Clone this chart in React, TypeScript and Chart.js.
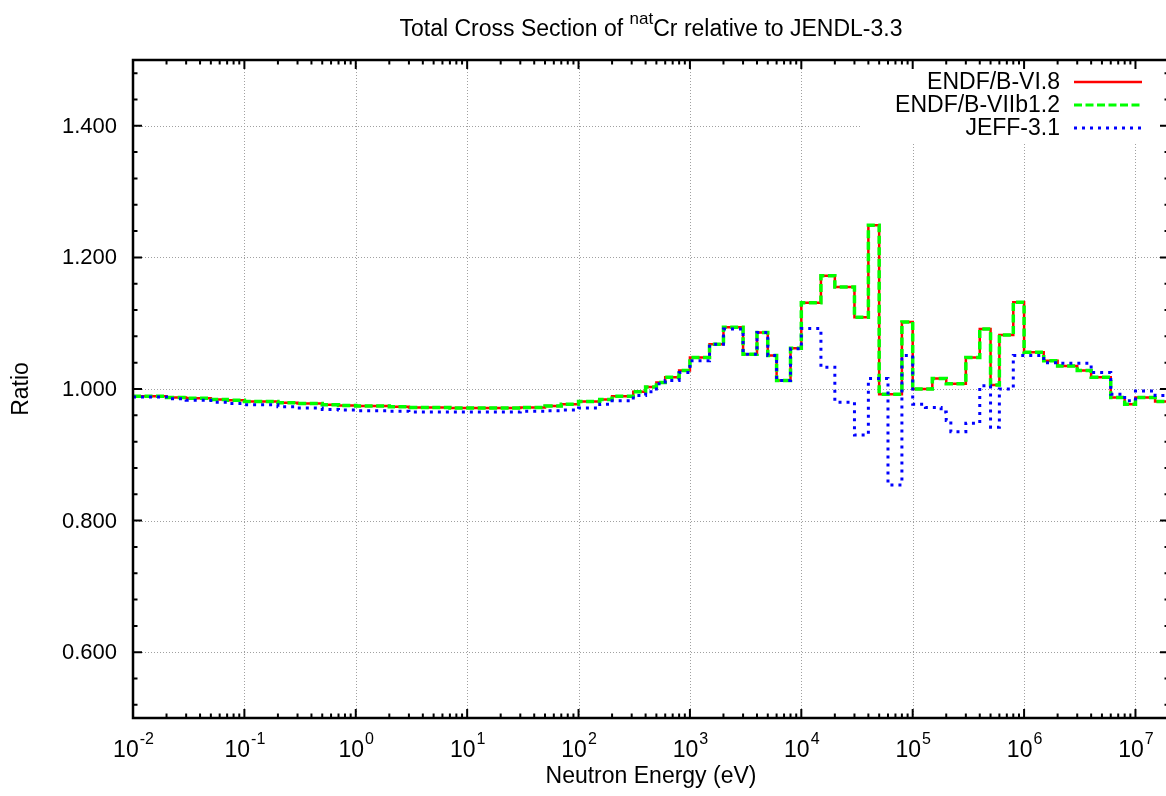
import React, { useEffect, useRef } from "react";
import { Chart, registerables } from "chart.js";

Chart.register(...registerables);

// ---- Data ----
// Bin lower edges (eV); last entry closes the final bin.
const endfEnergy = [
  0.01, 0.02, 0.03, 0.05, 0.07, 0.1, 0.2, 0.3, 0.5, 0.7,
  1, 2, 3, 5, 7, 10, 20, 30, 50, 70,
  100, 155, 200, 310, 400, 500, 600, 800,
  1000, 1500, 2000, 3000, 4000, 5000, 6000, 8000,
  1e4, 1.5e4, 2e4, 3e4, 4e4, 5e4, 8e4,
  1e5, 1.5e5, 2e5, 3e5, 4e5, 5e5, 6e5, 8e5,
  1e6, 1.5e6, 2e6, 3e6, 4e6, 6e6, 8e6,
  1e7, 1.5e7, 2e7,
];
const endfB68Ratio = [
  0.989, 0.987, 0.986, 0.984, 0.983, 0.981, 0.979, 0.978, 0.976, 0.975,
  0.974, 0.973, 0.972, 0.972, 0.971, 0.971, 0.971, 0.972, 0.974, 0.977,
  0.981, 0.984, 0.989, 0.996, 1.003, 1.010, 1.018, 1.028,
  1.048, 1.068, 1.094, 1.053, 1.086, 1.051, 1.013, 1.062,
  1.131, 1.172, 1.155, 1.109, 1.249, 0.992, 1.102,
  1.000, 1.016, 1.008, 1.048, 1.091, 1.006, 1.082, 1.132,
  1.056, 1.043, 1.035, 1.028, 1.018, 0.987, 0.977,
  0.987, 0.981, 0.981,
];
const endfB7Ratio = [
  0.989, 0.987, 0.986, 0.984, 0.983, 0.981, 0.979, 0.978, 0.976, 0.975,
  0.974, 0.973, 0.972, 0.972, 0.971, 0.971, 0.971, 0.972, 0.974, 0.977,
  0.981, 0.984, 0.989, 0.996, 1.003, 1.010, 1.018, 1.028,
  1.048, 1.068, 1.094, 1.053, 1.086, 1.051, 1.013, 1.062,
  1.131, 1.172, 1.155, 1.109, 1.249, 0.992, 1.102,
  1.000, 1.016, 1.008, 1.048, 1.091, 1.006, 1.082, 1.132,
  1.056, 1.043, 1.035, 1.028, 1.018, 0.987, 0.977,
  0.987, 0.981, 0.981,
];
const jeffEnergy = [
  0.01, 0.02, 0.03, 0.05, 0.07, 0.1, 0.2, 0.3, 0.5, 0.7,
  1, 2, 3, 5, 7, 10, 20, 30, 50, 70,
  100, 155, 200, 310, 400, 500, 600, 800,
  1000, 1500, 2000, 3000, 4000, 5000, 6000, 8000,
  1e4, 1.5e4, 2e4, 3e4, 4e4, 6e4, 8e4,
  1e5, 1.3e5, 1.8e5, 2e5, 2.2e5, 3e5, 4e5, 5e5, 6e5, 8e5,
  1.5e6, 2e6, 4e6, 6e6, 8e6,
  1e7, 1.5e7, 2e7,
];
const jeffRatio = [
  0.988, 0.985, 0.983, 0.980, 0.978, 0.976, 0.973, 0.971, 0.969, 0.968,
  0.967, 0.966, 0.965, 0.965, 0.965, 0.965, 0.965, 0.966, 0.967, 0.968,
  0.971, 0.977, 0.982, 0.990, 0.996, 1.008, 1.013, 1.025,
  1.043, 1.068, 1.091, 1.053, 1.086, 1.051, 1.013, 1.061,
  1.092, 1.033, 0.980, 0.930, 1.016, 0.854, 1.051,
  0.977, 0.972, 0.965, 0.952, 0.935, 0.948, 1.005, 0.942, 1.000, 1.051,
  1.040, 1.039, 1.025, 0.992, 0.982,
  0.997, 0.990, 0.990,
];

const seriesLabels = ["ENDF/B-VI.8", "ENDF/B-VIIb1.2", "JEFF-3.1"];
const xDecadeExponents = [-2, -1, 0, 1, 2, 3, 4, 5, 6, 7];
const yTickValues = [0.6, 0.8, 1.0, 1.2, 1.4];
const xMin = 0.01;
const xMax = 2e7;
const yMin = 0.5;
const yMax = 1.5;
const yMinorStep = 0.04;
const titleParts = ["Total Cross Section of ", "nat", "Cr relative to JENDL-3.3"];
const xTitle = "Neutron Energy (eV)";
const yTitle = "Ratio";

const FONT = '"Liberation Sans", Arial, Helvetica, sans-serif';

const decorPlugin = {
  id: "gnuplotDecor",
  beforeDatasetsDraw(chart: any) {
    const { ctx, chartArea: a, scales } = chart;
    const xs = scales.x;
    const ys = scales.y;
    ctx.save();
    ctx.strokeStyle = "#a0a0a0";
    ctx.lineWidth = 1;
    ctx.setLineDash([1, 2]);
    for (const e of xDecadeExponents) {
      const px = Math.round(xs.getPixelForValue(Math.pow(10, e))) + 0.5;
      if (px <= a.left + 1 || px >= a.right - 1) continue;
      ctx.beginPath();
      ctx.moveTo(px, a.top);
      ctx.lineTo(px, a.bottom);
      ctx.stroke();
    }
    for (const v of yTickValues) {
      const py = Math.round(ys.getPixelForValue(v)) + 0.5;
      ctx.beginPath();
      ctx.moveTo(a.left, py);
      ctx.lineTo(a.right, py);
      ctx.stroke();
    }
    ctx.restore();
  },
  afterDatasetsDraw(chart: any) {
    const { ctx, chartArea: a, scales } = chart;
    const xs = scales.x;
    const ys = scales.y;
    ctx.save();

    // legend box (clears grid behind it)
    const legRight = 1060;
    const sampleL = 1074;
    const sampleR = 1142;
    const rowY = [82, 105, 128];
    ctx.fillStyle = "#ffffff";
    ctx.fillRect(860, a.top + 1, a.right - 860, 141 - a.top);

    const styles = [
      { c: "#ff0000", w: 2.5, d: [] as number[] },
      { c: "#00ff00", w: 3, d: [8, 3.5] },
      { c: "#0000ff", w: 3, d: [3, 5] },
    ];
    ctx.font = `23px ${FONT}`;
    ctx.textAlign = "right";
    ctx.textBaseline = "middle";
    ctx.fillStyle = "#000";
    seriesLabels.forEach((lab, i) => {
      ctx.fillText(lab, legRight, rowY[i] + 1);
      ctx.beginPath();
      ctx.strokeStyle = styles[i].c;
      ctx.lineWidth = styles[i].w;
      ctx.setLineDash(styles[i].d);
      ctx.moveTo(sampleL, rowY[i]);
      ctx.lineTo(sampleR, rowY[i]);
      ctx.stroke();
    });
    ctx.setLineDash([]);

    // ticks
    ctx.strokeStyle = "#000";
    ctx.lineWidth = 2;
    const major = 9;
    const minor = 4.5;
    for (let e = -2; e <= 7; e++) {
      for (let m = 1; m <= 9; m++) {
        const v = m * Math.pow(10, e);
        if (v < xMin || v > xMax) continue;
        const px = xs.getPixelForValue(v);
        const len = m === 1 ? major : minor;
        ctx.beginPath();
        ctx.moveTo(px, a.bottom);
        ctx.lineTo(px, a.bottom - len);
        ctx.moveTo(px, a.top);
        ctx.lineTo(px, a.top + len);
        ctx.stroke();
      }
    }
    const nMinor = Math.round((yMax - yMin) / yMinorStep);
    for (let k = 0; k <= nMinor; k++) {
      const v = 0.6 + (k - 2) * yMinorStep;
      if (v <= yMin + 1e-6 || v >= yMax - 1e-6) continue;
      const isMajor = yTickValues.some((t) => Math.abs(t - v) < 1e-6);
      const len = isMajor ? major : minor;
      const py = ys.getPixelForValue(v);
      ctx.beginPath();
      ctx.moveTo(a.left, py);
      ctx.lineTo(a.left + len, py);
      ctx.moveTo(a.right, py);
      ctx.lineTo(a.right - len, py);
      ctx.stroke();
    }

    // frame
    ctx.lineWidth = 2.5;
    ctx.strokeRect(a.left, a.top, a.right - a.left, a.bottom - a.top);

    // y tick labels
    ctx.fillStyle = "#000";
    ctx.font = `22px ${FONT}`;
    ctx.textAlign = "right";
    ctx.textBaseline = "middle";
    for (const v of yTickValues) {
      ctx.fillText(v.toFixed(3), 117, ys.getPixelForValue(v) + 1);
    }

    // x tick labels 10^n
    ctx.textBaseline = "alphabetic";
    for (const e of xDecadeExponents) {
      const px = xs.getPixelForValue(Math.pow(10, e));
      ctx.font = `23px ${FONT}`;
      const wb = ctx.measureText("10").width;
      ctx.font = `16px ${FONT}`;
      const ex = String(e);
      const we = ctx.measureText(ex).width;
      const left = px - (wb + we) / 2;
      ctx.textAlign = "left";
      ctx.font = `23px ${FONT}`;
      ctx.fillText("10", left, 757);
      ctx.font = `16px ${FONT}`;
      ctx.fillText(ex, left + wb + 1, 744);
    }

    // axis titles
    ctx.font = `23px ${FONT}`;
    ctx.textAlign = "center";
    ctx.textBaseline = "middle";
    ctx.fillText(xTitle, (a.left + a.right) / 2, 777);
    ctx.save();
    ctx.translate(22, 389);
    ctx.rotate(-Math.PI / 2);
    ctx.fillText(yTitle, 0, 0);
    ctx.restore();

    // title with superscript
    ctx.textBaseline = "alphabetic";
    ctx.textAlign = "left";
    ctx.font = `23px ${FONT}`;
    const w0 = ctx.measureText(titleParts[0]).width;
    const w2 = ctx.measureText(titleParts[2]).width;
    ctx.font = `17px ${FONT}`;
    const w1 = ctx.measureText(titleParts[1]).width;
    const total = w0 + w1 + w2;
    let tx = (a.left + a.right) / 2 - total / 2;
    ctx.font = `23px ${FONT}`;
    ctx.fillText(titleParts[0], tx, 36);
    tx += w0;
    ctx.font = `17px ${FONT}`;
    ctx.fillText(titleParts[1], tx, 24);
    tx += w1;
    ctx.font = `23px ${FONT}`;
    ctx.fillText(titleParts[2], tx, 36);

    ctx.restore();
  },
};

export default function App() {
  const canvasRef = useRef<HTMLCanvasElement | null>(null);

  useEffect(() => {
    const canvas = canvasRef.current;
    if (!canvas) return;
    const toPts = (xsArr: number[], ysArr: number[]) =>
      xsArr.map((x, i) => ({ x, y: ysArr[i] }));
    const chart = new Chart(canvas, {
      type: "line",
      data: {
        datasets: [
          {
            label: seriesLabels[0],
            data: toPts(endfEnergy, endfB68Ratio),
            borderColor: "#ff0000",
            borderWidth: 2.5,
            stepped: true,
            pointRadius: 0,
            fill: false,
            order: 3,
          },
          {
            label: seriesLabels[1],
            data: toPts(endfEnergy, endfB7Ratio),
            borderColor: "#00ff00",
            borderWidth: 3.5,
            borderDash: [8, 3.5],
            stepped: true,
            pointRadius: 0,
            fill: false,
            order: 2,
          },
          {
            label: seriesLabels[2],
            data: toPts(jeffEnergy, jeffRatio),
            borderColor: "#0000ff",
            borderWidth: 3,
            borderDash: [3, 5],
            stepped: true,
            pointRadius: 0,
            fill: false,
            order: 1,
          },
        ],
      },
      options: {
        animation: false,
        responsive: false,
        maintainAspectRatio: false,
        devicePixelRatio: 1,
        layout: { padding: { left: 133, top: 60, right: 3, bottom: 78 } },
        scales: {
          x: { type: "logarithmic", min: xMin, max: xMax, display: false },
          y: { type: "linear", min: yMin, max: yMax, display: false },
        },
        plugins: {
          legend: { display: false },
          title: { display: false },
          tooltip: { enabled: false },
        },
      },
      plugins: [decorPlugin],
    });
    return () => chart.destroy();
  }, []);

  return (
    <div
      style={{
        position: "fixed",
        left: 0,
        top: 0,
        width: 1166,
        height: 796,
        overflow: "hidden",
        background: "#fff",
      }}
    >
      <canvas ref={canvasRef} width={1172} height={796} style={{ display: "block" }} />
    </div>
  );
}
